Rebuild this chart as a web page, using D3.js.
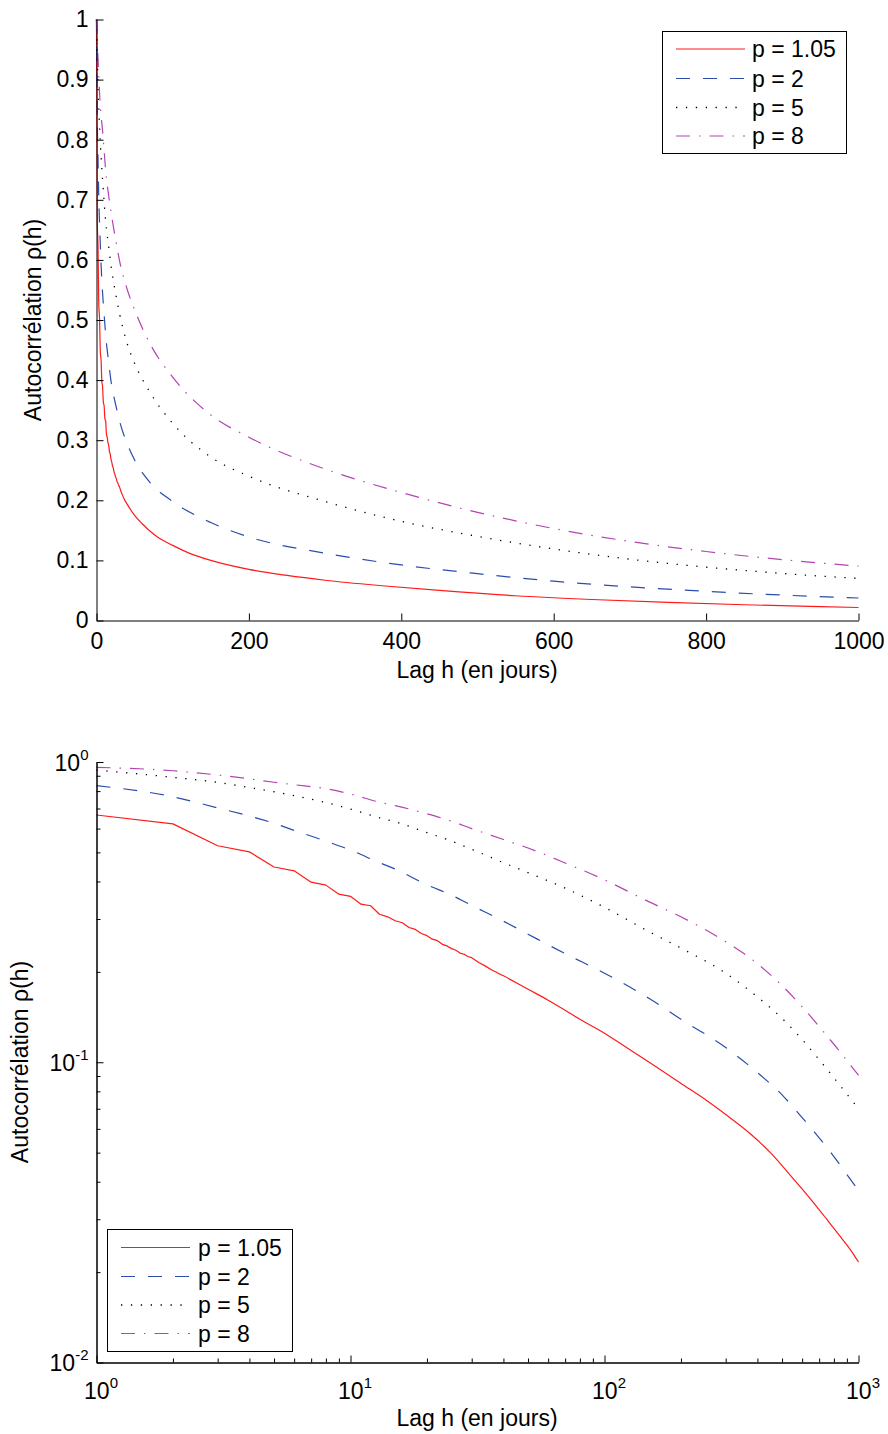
<!DOCTYPE html>
<html><head><meta charset="utf-8">
<script src="https://cdn.jsdelivr.net/npm/d3@7"></script>
<style>
body{margin:0;background:#fff}
text{font-family:"Liberation Sans",Arial,Helvetica,sans-serif;fill:#000}
</style>
</head><body>
<svg id="c" width="888" height="1434" xmlns="http://www.w3.org/2000/svg"></svg>
<script>
// ---------------- data ----------------
const seriesNames = ["p = 1.05", "p = 2", "p = 5", "p = 8"];

const lagsRed = [0,1,2,3,4,5,6,7,8,9,10,11,12,13,14,15,16,17,18,19,20,21,22,23,24,25,26,27,28,29,30,
  32,34,36,40,50,60,70,80,100,120,150,200,250,300,375,450,550,650,750,850,950,1000];
const rhoRed = [1,0.666,0.622,0.526,0.502,0.447,0.434,0.398,0.389,0.363,0.357,0.336,0.332,0.311,0.305,
  0.296,0.2915,0.281,0.277,0.2685,0.264,0.257,0.254,0.247,0.244,0.239,0.236,0.231,0.229,0.225,0.223,
  0.215,0.209,0.203,0.194,0.175,0.161,0.149,0.139,0.125,0.113,0.100,0.085,0.075,0.067,0.0578,0.0500,
  0.0412,0.0349,0.0300,0.0262,0.0231,0.0216];

const lagsP = [0,1,2,3,4,5,6,8,10,13,15,20,25,30,40,50,70,100,150,200,300,400,500,600,700,800,900,1000];
const rhoP2 = [1,0.834,0.766,0.703,0.661,0.625,0.592,0.545,0.509,0.462,0.44,0.39,0.36,0.333,0.295,0.267,
  0.23,0.198,0.163,0.139,0.112,0.0924,0.0779,0.0654,0.056,0.0485,0.0423,0.0374];
const rhoP5 = [1,0.94,0.889,0.855,0.822,0.796,0.772,0.733,0.697,0.652,0.632,0.582,0.545,0.512,0.462,0.428,
  0.38,0.328,0.272,0.24,0.198,0.165,0.140,0.119,0.102,0.0888,0.0783,0.070];
const rhoP8 = [1,0.96,0.935,0.905,0.879,0.856,0.84,0.815,0.782,0.735,0.716,0.672,0.635,0.60,0.552,0.517,
  0.461,0.405,0.342,0.305,0.252,0.213,0.18,0.153,0.1315,0.1148,0.1013,0.0905];

const linTicksX = [0,200,400,600,800,1000];
const linTicksY = [0,0.1,0.2,0.3,0.4,0.5,0.6,0.7,0.8,0.9,1];
const logMajorX = [1,10,100,1000];
const logMajorY = [0.01,0.1,1];
const xTitle = "Lag h (en jours)";
const yTitle = "Autocorrélation ρ(h)";

// ---------------- styles ----------------
const styles = [
  {color:"#ff1a1a", dash:null, w:1.2},
  {color:"#2a4cad", dash:"14,13", w:1.2},
  {color:"#000000", dash:"1.3,8.6", w:1.3},
  {color:"#b444b4", dash:"14,9,1.5,9", w:1.2}
];
const series = [
  {lags:lagsRed, vals:rhoRed},
  {lags:lagsP, vals:rhoP2},
  {lags:lagsP, vals:rhoP5},
  {lags:lagsP, vals:rhoP8}
];
const sawtoothEnd = 36; // red drawn with straight segments up to this lag on the log panel

const svg = d3.select("#c");
const FS = 23;
const FSX = 15;

function legend(g, x, y, w, h, lineX0, lineX1, textX, rowYs) {
  g.append("rect").attr("x", x+0.5).attr("y", y+0.5).attr("width", w).attr("height", h)
    .attr("fill", "#fff").attr("stroke", "#000").attr("stroke-width", 1);
  seriesNames.forEach((name, i) => {
    const s = styles[i];
    g.append("line").attr("x1", lineX0).attr("x2", lineX1).attr("y1", rowYs[i]).attr("y2", rowYs[i])
      .attr("stroke", s.color).attr("stroke-width", s.w).attr("stroke-dasharray", s.dash);
    g.append("text").attr("x", textX).attr("y", rowYs[i]).attr("dy", "0.36em")
      .attr("font-size", FS).text(name);
  });
}

function addPath(g, pts, i, curve, x, y) {
  g.append("path").datum(pts)
    .attr("fill", "none")
    .attr("stroke", styles[i].color)
    .attr("stroke-width", styles[i].w)
    .attr("stroke-dasharray", styles[i].dash)
    .attr("stroke-linejoin", "round")
    .attr("d", d3.line().curve(curve).x(d => x(d[0])).y(d => y(d[1])));
}

function drawLines(g, x, y, isLog) {
  series.forEach((s, i) => {
    let pts = s.lags.map((h, k) => [h, s.vals[k]]);
    if (isLog) pts = pts.filter(d => d[0] >= 1);
    if (i === 0 && isLog) {
      addPath(g, pts.filter(d => d[0] <= sawtoothEnd), i, d3.curveLinear, x, y);
      addPath(g, pts.filter(d => d[0] >= sawtoothEnd), i, d3.curveMonotoneX, x, y);
    } else {
      addPath(g, pts, i, d3.curveMonotoneX, x, y);
    }
  });
}

function styleAxis(ax) {
  ax.select(".domain").attr("stroke", "#000").attr("stroke-width", 1);
  ax.selectAll(".tick line").attr("stroke", "#000");
  ax.selectAll("text").attr("font-size", FS).attr("font-family", '"Liberation Sans",Arial,sans-serif');
}

// ---------------- top panel (linear) ----------------
{
  const x = d3.scaleLinear().domain([0, 1000]).range([96.5, 858.5]);
  const y = d3.scaleLinear().domain([0, 1]).range([620.5, 19.5]);
  const g = svg.append("g");

  drawLines(g, x, y, false);

  const ax = g.append("g").attr("transform", "translate(0,620.5)")
    .call(d3.axisBottom(x).tickValues(linTicksX).tickSizeInner(-7).tickSizeOuter(0).tickPadding(12)
      .tickFormat(d3.format("d")));
  styleAxis(ax);
  const ay = g.append("g").attr("transform", "translate(96.5,0)")
    .call(d3.axisLeft(y).tickValues(linTicksY).tickSizeInner(-7).tickSizeOuter(0).tickPadding(8)
      .tickFormat(d => d === 0 ? "0" : d === 1 ? "1" : d3.format(".1f")(d)));
  styleAxis(ay);

  g.append("text").attr("x", 477).attr("y", 678).attr("text-anchor", "middle")
    .attr("font-size", FS).text(xTitle);
  g.append("text").attr("transform", "translate(41,320) rotate(-90)").attr("text-anchor", "middle")
    .attr("font-size", FS).text(yTitle);

  legend(g, 662, 31, 184, 122, 676, 745, 752, [49, 78.5, 107.5, 136]);
}

// ---------------- bottom panel (log-log) ----------------
{
  const x = d3.scaleLog().domain([1, 1000]).range([96.5, 858.5]);
  const y = d3.scaleLog().domain([0.01, 1]).range([1362.5, 762]);
  const g = svg.append("g");

  drawLines(g, x, y, true);

  const minorX = [], minorY = [];
  [1,10,100].forEach(b => { for (let m = 2; m <= 9; m++) minorX.push(b*m); });
  [0.01,0.1].forEach(b => { for (let m = 2; m <= 9; m++) minorY.push(+(b*m).toPrecision(3)); });

  const axm = g.append("g").attr("transform", "translate(0,1362.5)")
    .call(d3.axisBottom(x).tickValues(minorX).tickSizeInner(-4).tickSizeOuter(0).tickFormat(""));
  styleAxis(axm);
  const aym = g.append("g").attr("transform", "translate(96.5,0)")
    .call(d3.axisLeft(y).tickValues(minorY).tickSizeInner(-4).tickSizeOuter(0).tickFormat(""));
  styleAxis(aym);

  const ax = g.append("g").attr("transform", "translate(0,1362.5)")
    .call(d3.axisBottom(x).tickValues(logMajorX).tickSizeInner(-7).tickSizeOuter(0).tickFormat(""));
  styleAxis(ax);
  ax.selectAll(".tick").each(function(d) {
    const t = d3.select(this).append("text").attr("x", 4).attr("y", 36).attr("text-anchor", "middle")
      .attr("font-size", FS).attr("fill", "#000");
    t.append("tspan").text("10");
    t.append("tspan").attr("dy", -11).attr("font-size", FSX).text(String(Math.round(Math.log10(d))));
  });

  const ay = g.append("g").attr("transform", "translate(96.5,0)")
    .call(d3.axisLeft(y).tickValues(logMajorY).tickSizeInner(-7).tickSizeOuter(0).tickFormat(""));
  styleAxis(ay);
  ay.selectAll(".tick").each(function(d) {
    const t = d3.select(this).append("text").attr("x", -8).attr("y", 8).attr("text-anchor", "end")
      .attr("font-size", FS).attr("fill", "#000");
    t.append("tspan").text("10");
    t.append("tspan").attr("dy", -11).attr("font-size", FSX).text(String(Math.round(Math.log10(d))));
  });

  g.append("text").attr("x", 477).attr("y", 1426).attr("text-anchor", "middle")
    .attr("font-size", FS).text(xTitle);
  g.append("text").attr("transform", "translate(28,1062) rotate(-90)").attr("text-anchor", "middle")
    .attr("font-size", FS).text(yTitle);

  legend(g, 107, 1229, 185, 122, 121, 190, 198, [1247.5, 1276.5, 1305, 1333.5]);
}
</script>
</body></html>
